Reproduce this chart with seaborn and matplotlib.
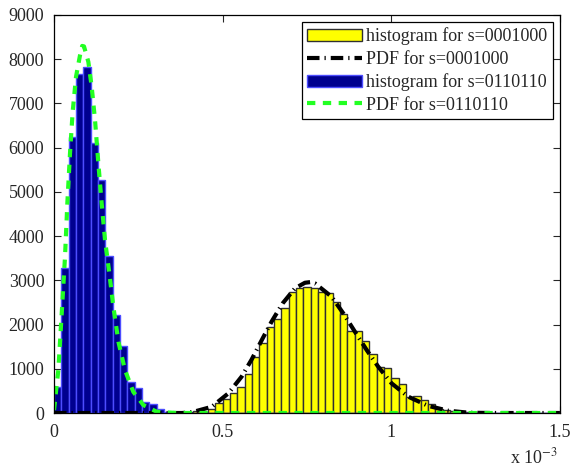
import numpy as np
import pandas as pd
import seaborn as sns
import matplotlib.pyplot as plt
from matplotlib.patches import Patch
from matplotlib.lines import Line2D

# x axis is in units of 1e-3
N_BINS = 69
X_MAX = 1.5

# histogram counts per bin (bins start at 0)
yellow_counts = [0] * 17 + [
    10, 20, 50, 20, 85, 220, 310, 460, 580, 890,
    1260, 1575, 1940, 2125, 2380, 2740, 2830, 2855, 2820, 2740,
    2705, 2500, 2250, 1860, 1845, 1620, 1325, 1040, 1010, 800,
    650, 370, 390, 295, 200, 85, 75, 35, 35, 20,
    10, 5,
]
yellow_counts += [0] * (N_BINS - len(yellow_counts))

blue_counts = [
    590, 3280, 6240, 7670, 7815, 6100, 5260, 3560, 2215, 1515,
    710, 560, 255, 195, 90, 30, 10, 5,
]
blue_counts += [0] * (N_BINS - len(blue_counts))

# PDF curves
black_x = [0.0, 0.38, 0.41, 0.4675, 0.517, 0.556, 0.586, 0.616, 0.645, 0.678,
           0.7145, 0.744, 0.76, 0.774, 0.823, 0.858, 0.892, 0.927, 0.961, 1.001,
           1.050, 1.110, 1.169, 1.228, 1.30, 1.5]
black_y = [0, 0, 20, 140, 445, 820, 1210, 1650, 2065, 2480,
           2820, 2945, 2960, 2930, 2630, 2250, 1840, 1425, 1050, 670,
           370, 160, 52, 7, 0, 0]

green_x = [0.0, 0.0128, 0.0228, 0.0326, 0.0395, 0.0474, 0.0553, 0.0652, 0.0771, 0.0835,
           0.0889, 0.1018, 0.1117, 0.1216, 0.1315, 0.1413, 0.1512, 0.164, 0.176, 0.191,
           0.2105, 0.235, 0.265, 0.304, 0.363, 1.5]
green_y = [68, 970, 2250, 3530, 4740, 5870, 6810, 7600, 8090, 8300,
           8290, 7940, 7375, 6620, 5640, 4740, 3910, 3160, 2400, 1610,
           970, 480, 180, 30, 0, 0]

LABELS = ['histogram for s=0001000', 'PDF for s=0001000',
          'histogram for s=0110110', 'PDF for s=0110110']

DASHDOT = (0, (3.0, 1.2, 0.3, 1.2))


def main():
    sns.set_style('ticks')
    plt.rcParams['font.family'] = ['Liberation Serif', 'DejaVu Serif']
    plt.rcParams['mathtext.fontset'] = 'stix'
    plt.rcParams['font.size'] = 13

    edges = np.linspace(0, X_MAX, N_BINS + 1)
    centers = (edges[:-1] + edges[1:]) / 2
    df = pd.DataFrame({'x': centers, 'yellow': yellow_counts, 'blue': blue_counts})

    fig = plt.figure(figsize=(5.71, 4.68), dpi=100)
    ax = fig.add_axes([0.0946, 0.1175, 0.886, 0.8505])

    sns.histplot(data=df, x='x', weights='yellow', bins=N_BINS, binrange=(0, X_MAX),
                 color='#ffff00', edgecolor='#303030', linewidth=1.0, alpha=1, ax=ax)
    sns.lineplot(x=black_x, y=black_y, color='black', lw=3,
                 linestyle=DASHDOT, ax=ax)
    sns.histplot(data=df, x='x', weights='blue', bins=N_BINS, binrange=(0, X_MAX),
                 color='#00008f', edgecolor='#4d4dff', linewidth=1.0, alpha=1, ax=ax)
    sns.lineplot(x=green_x, y=green_y, color='#22ff22', lw=3, ax=ax)
    ax.lines[-1].set_dashes((2.0, 1.8))

    ax.set_xlim(0, X_MAX)
    ax.set_ylim(0, 9000)
    ax.set_xticks([0, 0.5, 1, 1.5])
    ax.set_xticklabels(['0', '0.5', '1', '1.5'])
    ax.set_yticks(range(0, 9001, 1000))
    ax.set_xlabel('')
    ax.set_ylabel('')
    ax.tick_params(direction='in', top=True, right=True, length=5, width=0.8,
                   labelsize=13)
    ax.tick_params(axis='x', pad=8)
    ax.tick_params(axis='y', pad=7)
    for sp in ax.spines.values():
        sp.set_visible(True)
        sp.set_linewidth(0.9)
        sp.set_color('black')

    fig.text(0.893, 0.002, 'x 10$^{-3}$', fontsize=13, ha='left', va='bottom')

    handles = [
        Patch(facecolor='#ffff00', edgecolor='#303030', linewidth=1.0),
        Line2D([], [], color='black', lw=3, linestyle=DASHDOT),
        Patch(facecolor='#00008f', edgecolor='#4d4dff', linewidth=1.0),
        Line2D([], [], color='#22ff22', lw=3, dashes=(2.0, 1.8)),
    ]
    leg = ax.legend(handles, LABELS, loc='upper right', fontsize=13,
                    frameon=True, fancybox=False, framealpha=1,
                    edgecolor='black', borderaxespad=0.4, borderpad=0.3,
                    labelspacing=0.3, handlelength=3.0, handletextpad=0.25)
    leg.get_frame().set_linewidth(0.9)

    fig.savefig('out.png', dpi=100)
    plt.close(fig)


if __name__ == '__main__':
    main()
